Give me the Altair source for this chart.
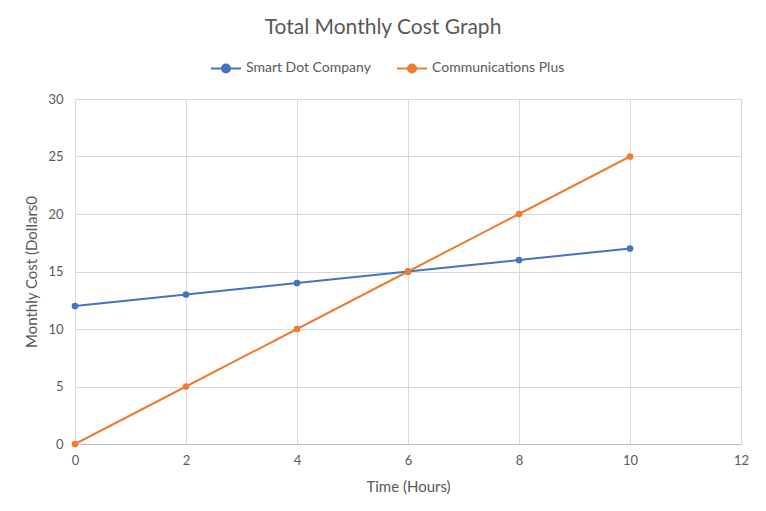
import altair as alt
import pandas as pd

hours = [0, 2, 4, 6, 8, 10]
smart_dot = [12, 13, 14, 15, 16, 17]
comm_plus = [0, 5, 10, 15, 20, 25]
series_names = ["Smart Dot Company", "Communications Plus"]
colors = ["#4472C4", "#ED7D31"]

rows = []
for h, v in zip(hours, smart_dot):
    rows.append({"Time": h, "Cost": v, "Series": series_names[0]})
for h, v in zip(hours, comm_plus):
    rows.append({"Time": h, "Cost": v, "Series": series_names[1]})
df = pd.DataFrame(rows)

FONT = "Lato"
GRAY = "#595959"
legend_symbol = "M-1,0 L1,0 M-0.27,0 A0.27,0.27 0 1,1 0.27,0 A0.27,0.27 0 1,1 -0.27,0 Z"

chart = alt.Chart(df).mark_line(
    strokeWidth=2,
    point=alt.OverlayMarkDef(filled=True, size=45),
).encode(
    x=alt.X("Time:Q", title="Time (Hours)",
            scale=alt.Scale(domain=[0, 12], nice=False),
            axis=alt.Axis(values=[0, 2, 4, 6, 8, 10, 12], grid=True, labelFlush=False)),
    y=alt.Y("Cost:Q", title="Monthly Cost (Dollars0",
            scale=alt.Scale(domain=[0, 30], nice=False),
            axis=alt.Axis(values=[0, 5, 10, 15, 20, 25, 30], grid=True, domain=False,
                          labelFlush=False)),
    color=alt.Color("Series:N",
                    scale=alt.Scale(domain=series_names, range=colors),
                    sort=series_names,
                    legend=alt.Legend(
                        title=None, orient="none", direction="horizontal",
                        legendX=135, legendY=-47,
                        symbolType=legend_symbol, symbolSize=900,
                        symbolStrokeWidth=2, columnPadding=22,
                        labelFontSize=14, labelColor=GRAY, labelFont=FONT,
                        symbolOffset=0,
                    )),
).properties(
    width=666,
    height=345,
    autosize=alt.AutoSizeParams(type="none"),
    padding={"left": 67, "top": 91, "right": 17, "bottom": 59},
    title=alt.TitleParams("Total Monthly Cost Graph", fontSize=21, font=FONT,
                          fontWeight="normal", color=GRAY, anchor="middle",
                          dx=-25, offset=14),
).configure_view(stroke=None).configure_axis(
    gridColor="#d9d9d9",
    domainColor="#bfbfbf",
    ticks=False,
    labelColor=GRAY,
    labelFont=FONT,
    labelFontSize=13,
    titleColor=GRAY,
    titleFont=FONT,
    titleFontSize=15,
    titleFontWeight="normal",
).configure_axisX(labelPadding=10, titlePadding=12).configure_axisY(labelPadding=12, titlePadding=8)

chart.save("out.html", embed_options={"renderer": "svg", "actions": False})
